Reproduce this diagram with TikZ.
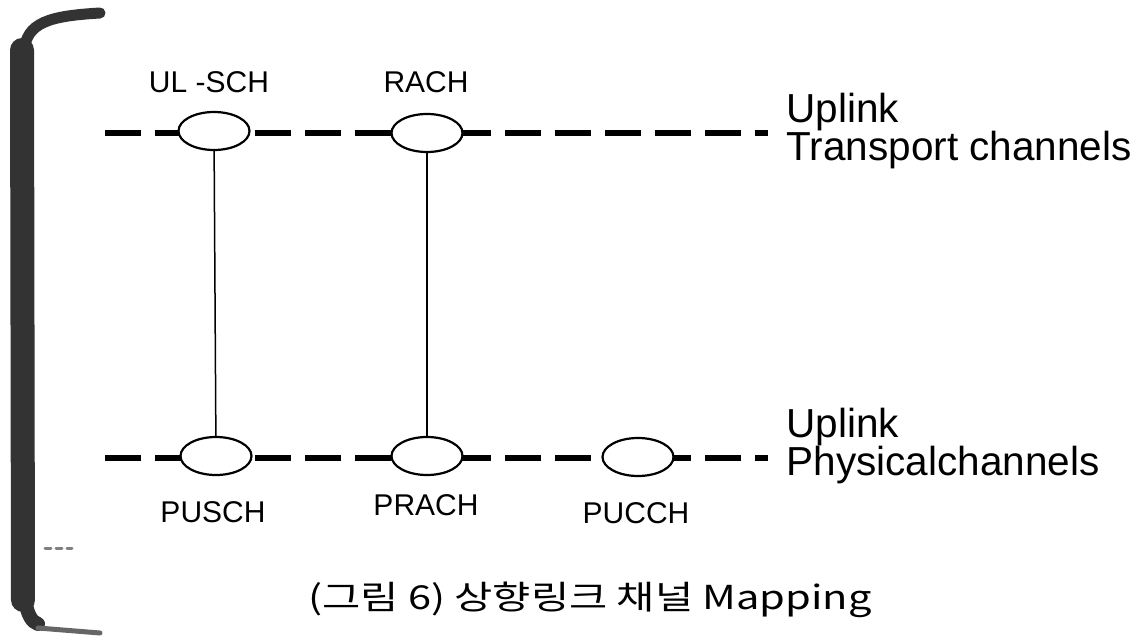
\documentclass[tikz,border=0pt]{standalone}
\usepackage{fontspec}
\setmainfont{Liberation Sans}
\newfontfamily\krfont{Noto Sans CJK KR}
\usetikzlibrary{shapes.geometric}

\begin{document}
\begin{tikzpicture}[
    x=1pt, y=-1pt,
    chan/.style={
        draw,
        ellipse,
        fill=white,
        line width=2.2pt,
        minimum width=71pt,
        minimum height=38pt,
        inner sep=0pt
    },
    layer/.style={
        line width=6.5pt,
        dash pattern=on 36pt off 14pt
    },
    chlabel/.style={
        font=\fontsize{30}{32}\selectfont
    },
    sidelabel/.style={
        font=\fontsize{40.5}{37}\selectfont,
        align=left,
        anchor=west
    },
    edge/.style={
        black!80,
        line cap=round
    }
]
\useasboundingbox (0,0) rectangle (1144,639);

% scanned page edge
\draw[edge, line width=24pt] (22,50) -- (23,600);
\draw[edge, line width=11pt] (24,52) .. controls (26,22) and (50,16) .. (100,13);
\draw[edge, line width=14pt] (25,598) .. controls (27,615) and (32,622) .. (38,624);
\draw[edge, black!60, line width=5pt] (38,628) -- (100,633);
\draw[edge, black!50, line width=3pt, dash pattern=on 6pt off 5pt] (45,548) -- (72,548);

% the two channel layers
\coordinate (tl) at (105,133);
\coordinate (tr) at (768,133);
\coordinate (pl) at (105,458);
\coordinate (pr) at (768,458);
\draw[layer] (tl) -- (tr);
\draw[layer] (pl) -- (pr);

% transport channels
\node[chan] (ulsch) at (214,131) {};
\node[chan] (rach) at (427,133) {};
% physical channels
\node[chan] (pusch) at (216,456) {};
\node[chan] (prach) at (427,456) {};
\node[chan] (pucch) at (638,457) {};

\draw[line width=1.5pt] (ulsch) -- (pusch);
\draw[line width=1.5pt] (rach) -- (prach);

\node[chlabel] (ulschlbl) at (209,82) {UL -SCH};
\node[chlabel] (rachlbl) at (426,82) {RACH};
\node[chlabel] (puschlbl) at (213,512) {PUSCH};
\node[chlabel] (prachlbl) at (426,505) {PRACH};
\node[chlabel] (pucchlbl) at (636,513) {PUCCH};

\node[sidelabel] (trlbl) at (783,131) {Uplink\\Transport channels};
\node[sidelabel] (phlbl) at (783,446) {Uplink\\Physicalchannels};

\node[font=\krfont\fontsize{33}{36}\selectfont] (caption) at (590,600)
{\scalebox{1.26}[1]{(그림 6) 상향링크 채널 Mapping}};

\end{tikzpicture}
\end{document}
